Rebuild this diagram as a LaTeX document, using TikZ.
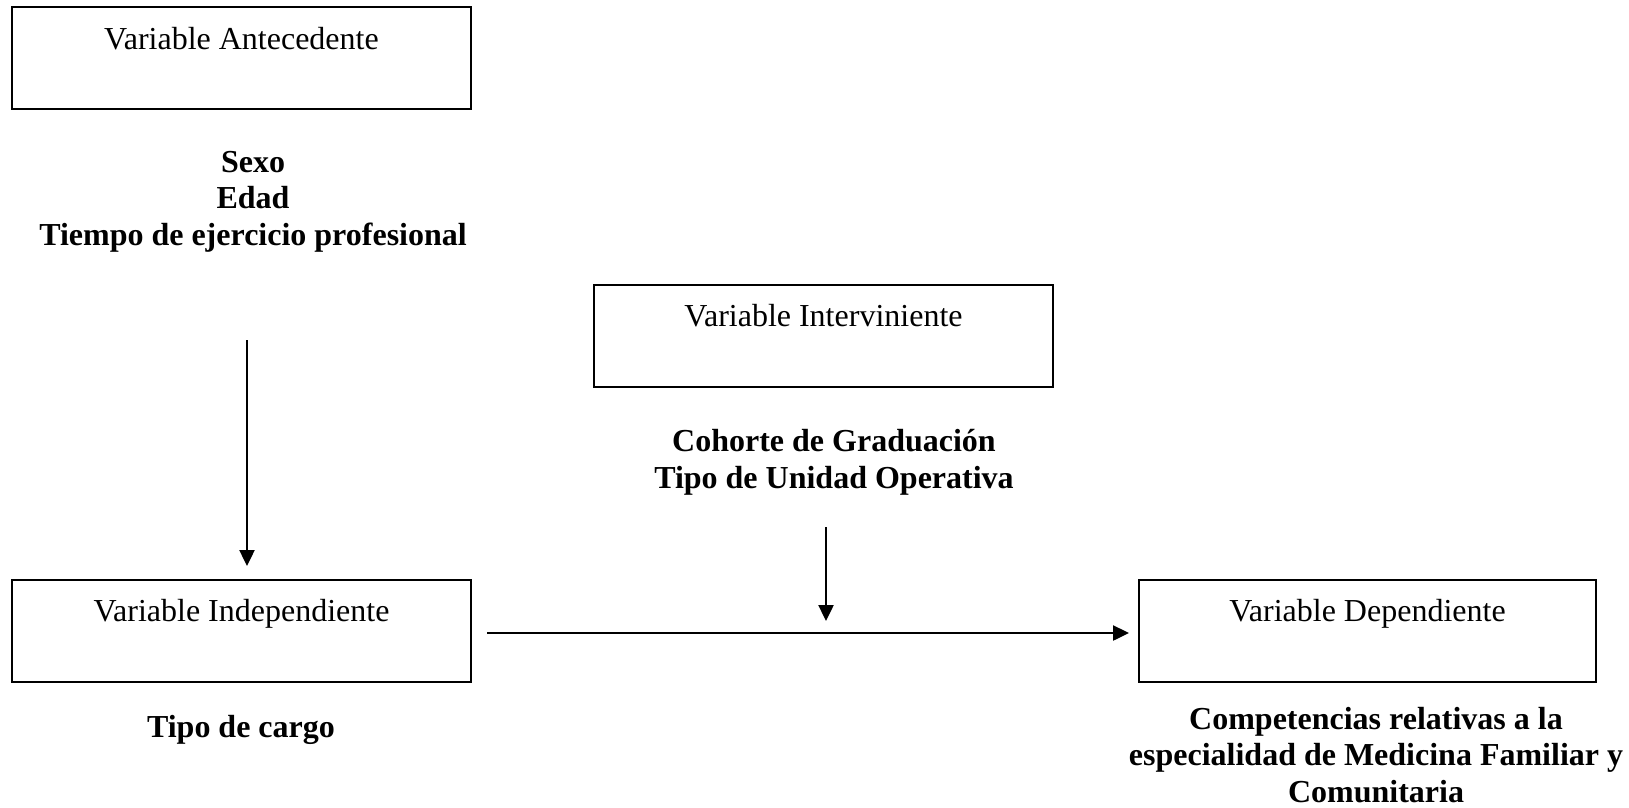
\documentclass[tikz,border=0pt]{standalone}
\usepackage{fontspec}
\setmainfont{Liberation Serif}
\usetikzlibrary{arrows.meta}
\begin{document}
\begin{tikzpicture}[x=1pt,y=-1pt,
  varbox/.style={draw, line width=2pt, minimum width=459pt, minimum height=102pt, inner sep=0pt},
  boxlabel/.style={font=\fontsize{32}{36}\selectfont},
  vars/.style={font=\fontsize{32}{36.5}\selectfont\bfseries, align=center, inner sep=0pt},
  arr/.style={line width=2.4pt, -{Triangle[length=16pt,width=15pt]}}]
\useasboundingbox (0,0) rectangle (1629,807);
\node[varbox, label={[boxlabel, anchor=base, yshift=-43pt]north:Variable Antecedente}] (ant) at (241.5,58) {};
\node[varbox, label={[boxlabel, anchor=base, yshift=-42pt]north:Variable Interviniente}] (int) at (823.5,336) {};
\node[varbox, label={[boxlabel, anchor=base, yshift=-43pt]north:Variable Independiente}] (ind) at (241.5,630.5) {};
\node[varbox, minimum width=457pt, label={[boxlabel, anchor=base, yshift=-43pt]north:Variable Dependiente}] (dep) at (1367.5,630.5) {};
\node[vars] (antv) at (253,201.5) {Sexo\\Edad\\Tiempo de ejercicio profesional};
\node[vars] (intv) at (834,462.5) {Cohorte de Graduación\\Tipo de Unidad Operativa};
\node[vars] (indv) at (241,730) {Tipo de cargo};
\node[vars] (depv) at (1376,755) {Competencias relativas a la\\especialidad de Medicina Familiar y\\Comunitaria};
\coordinate (a1) at (247,340);
\coordinate (a2) at (247,566);
\coordinate (b1) at (826,527);
\coordinate (b2) at (826,621);
\coordinate (c1) at (487,633);
\coordinate (c2) at (1129,633);
\draw[arr] (a1) -- (a2);
\draw[arr] (b1) -- (b2);
\draw[arr] (c1) -- (c2);
\end{tikzpicture}
\end{document}
